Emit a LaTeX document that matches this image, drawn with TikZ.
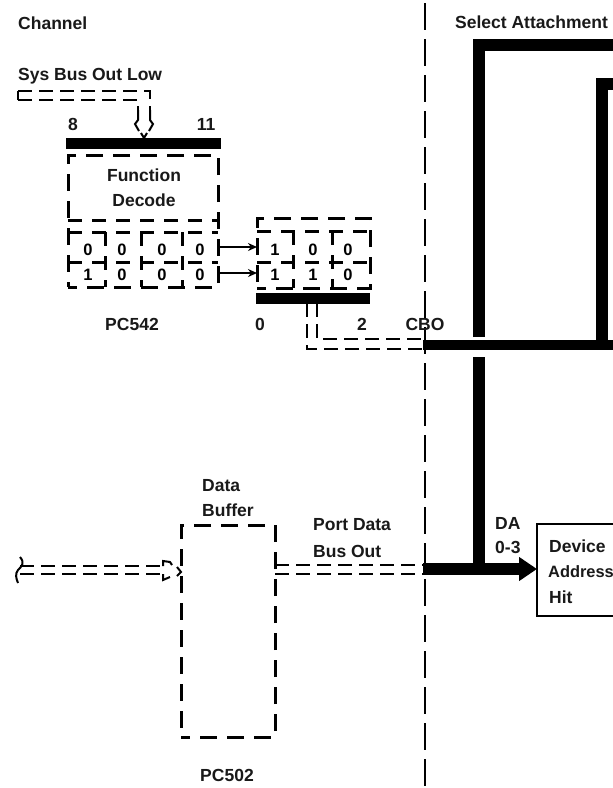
\documentclass[tikz,border=0pt]{standalone}
\usepackage{fontspec}
\setmainfont{Liberation Sans}
\usetikzlibrary{arrows.meta}
\tikzset{
  lbl/.style={font=\fontsize{17.5}{19}\selectfont\bfseries, inner sep=0pt, text=black!90},
  lblw/.style={lbl, anchor=west},
  digit/.style={font=\fontsize{16.5}{18}\selectfont\bfseries, inner sep=0pt},
  dbox/.style={draw, line width=3pt, dash pattern=on 17pt off 10pt, dash phase=8pt, line cap=butt, inner sep=0pt, outer sep=0pt, anchor=north west},
  gridline/.style={line width=3pt, dash pattern=on 14pt off 10pt},
  bus/.style={line width=2pt, dash pattern=on 14pt off 7pt},
  solidbus/.style={line width=2pt, line join=miter},
  heavy/.style={line width=12pt, line join=miter},
  bar/.style={fill=black, inner sep=0pt, outer sep=0pt, minimum height=10.5pt, anchor=north west},
  divider/.style={line width=1.8pt, dash pattern=on 27pt off 9pt},
  smallarrow/.style={line width=2.2pt, -{Stealth[length=9pt,width=8pt]}},
}
\begin{document}
\begin{tikzpicture}[x=1pt,y=-1pt]
\clip (0,0) rectangle (613,788);
\fill[white] (0,0) rectangle (613,788);
% divider
\coordinate (divtop) at (425,3);
\coordinate (divbot) at (425,788);
\draw[divider] (divtop) -- (divbot);
% headings
\node[lblw] (channel) at (18,23) {Channel};
\node[lblw] (select) at (455,22) {Select Attachment};
\node[lblw] (sysbus) at (18,76) {Sys Bus Out Low};
% function decode
\node[lbl] (n8) at (73,124) {8};
\node[lbl] (n11) at (206,124) {11};
\node[bar, minimum width=155pt] (fdbar) at (66,138) {};
\node[dbox, minimum width=150pt, minimum height=132pt] (fd) at (68,155) {};
\node[lbl] (func) at (144,175) {Function};
\node[lbl] (dec) at (144,200) {Decode};
\draw[gridline] (68,220) -- (218,220);
\draw[gridline] (68,232) -- (218,232);
\draw[gridline] (68,262) -- (218,262);
\draw[gridline] (105,232) -- (105,287);
\draw[gridline] (141,232) -- (141,287);
\draw[gridline] (182,232) -- (182,287);
\foreach \nm/\x/\y/\t in {a/88/250/0,b/122/250/0,c/162/250/0,d/200/250/0,e/88/275/1,f/122/275/0,g/162/275/0,h/200/275/0}
  \node[digit] (fd\nm) at (\x,\y) {\t};
\node[lbl] (pc542) at (132,324) {PC542};
% register
\node[dbox, minimum width=113pt, minimum height=70pt] (reg) at (257,218) {};
\draw[gridline] (257,231) -- (370,231);
\draw[gridline] (257,262) -- (370,262);
\draw[gridline] (293,231) -- (293,288);
\draw[gridline] (332,231) -- (332,288);
\foreach \nm/\x/\y/\t in {a/275/250/1,b/313/250/0,c/348/250/0,d/275/275/1,e/313/275/1,f/348/275/0}
  \node[digit] (reg\nm) at (\x,\y) {\t};
\node[bar, minimum width=114pt] (regbar) at (256,293) {};
\node[lbl] (n0) at (260,324) {0};
\node[lbl] (n2) at (362,324) {2};
\node[lbl] (cbo) at (425,324) {CBO};
% arrows fd -> reg
\coordinate (a1s) at (219,247); \coordinate (a1e) at (257,247);
\coordinate (a2s) at (219,273); \coordinate (a2e) at (257,273);
\draw[smallarrow] (a1s) -- (a1e);
\draw[smallarrow] (a2s) -- (a2e);
% sys bus
\coordinate (sA) at (18,100); \coordinate (sB) at (18,91);
\coordinate (sC) at (150,91); \coordinate (sD) at (150,120);
\coordinate (sE) at (138,100); \coordinate (sF) at (138,120);
\coordinate (sTip) at (144,138);
\draw[bus] (sF) -- (sE) -- (sA);
\draw[solidbus] (sA) -- (sB);
\draw[bus] (sB) -- (sC) -- (sD);
\draw[solidbus] (138,110) -- (sF) -- (135,124) -- (139,131);
\draw[solidbus] (150,110) -- (sD) -- (153,124) -- (149,131);
\draw[solidbus] (141,133) -- (sTip) -- (147,133);
% reg bar to CBO
\coordinate (c1a) at (307,303); \coordinate (c1b) at (307,349); \coordinate (c1c) at (424,349);
\coordinate (c2a) at (317,303); \coordinate (c2b) at (317,339); \coordinate (c2c) at (424,339);
\draw[bus] (c1a) -- (c1b) -- (c1c);
\draw[bus] (c2a) -- (c2b) -- (c2c);
% heavy select attachment
\coordinate (hA) at (479,337); \coordinate (hB) at (479,44.5); \coordinate (hC) at (620,44.5);
\coordinate (hD) at (602,346); \coordinate (hE) at (602,83.5); \coordinate (hF) at (620,83.5);
\coordinate (hG) at (423,345); \coordinate (hH) at (620,345);
\draw[heavy] (hA) -- (hB) -- (hC);
\draw[heavy] (hD) -- (hE) -- (hF);
\draw[line width=10.5pt] (hG) -- (hH);
% device address hit
\node[draw, line width=2.4pt, inner sep=0pt, outer sep=0pt, anchor=north west, minimum width=100pt, minimum height=92pt, fill=white] (dah) at (537,524) {};
\node[lblw] (dv) at (549,546) {Device};
\node[lblw, font=\fontsize{16.4}{18}\selectfont\bfseries] (ad) at (548,572) {Address};
\node[lblw] (hi) at (549,597) {Hit};
\node[lblw] (da) at (495,523) {DA};
\node[lblw] (da3) at (495,547) {0-3};
\coordinate (vA) at (479,357); \coordinate (vB) at (479,569);
\coordinate (dS) at (423,569);
\draw[line width=12pt] (vA) -- (vB);
\draw[line width=12pt, -{Triangle[length=18pt,width=23pt]}] (dS) -- (dah.west |- vB);
% data buffer
\node[lblw] (data) at (202,486) {Data};
\node[lblw] (buf) at (202,510) {Buffer};
\node[dbox, minimum width=94pt, minimum height=212pt] (db) at (181,525) {};
\node[lbl] (pc502) at (227,775) {PC502};
\node[lblw] (port) at (313,525) {Port Data};
\node[lblw] (busout) at (313,551) {Bus Out};
% left bus
\coordinate (lA) at (20,566); \coordinate (lB) at (163,566);
\coordinate (lC) at (20,574); \coordinate (lD) at (163,574);
\coordinate (lTip) at (181,572);
\draw[bus] (lA) -- (lB);
\draw[bus] (lC) -- (lD);
\draw[solidbus] (lB) -- (163,561) -- (170,562) -- (172,565);
\draw[solidbus] (lD) -- (163,580) -- (170,577);
\draw[solidbus] (177,567) -- (lTip) -- (177,576);
\draw[solidbus] (20,557) .. controls (25,563) and (22,566) .. (18,570) .. controls (15,574) and (16,578) .. (18,583);
% right bus
\coordinate (rA) at (275,565); \coordinate (rB) at (423,565);
\coordinate (rC) at (275,574); \coordinate (rD) at (423,574);
\draw[bus] (rA) -- (rB);
\draw[bus] (rC) -- (rD);
\end{tikzpicture}
\end{document}
